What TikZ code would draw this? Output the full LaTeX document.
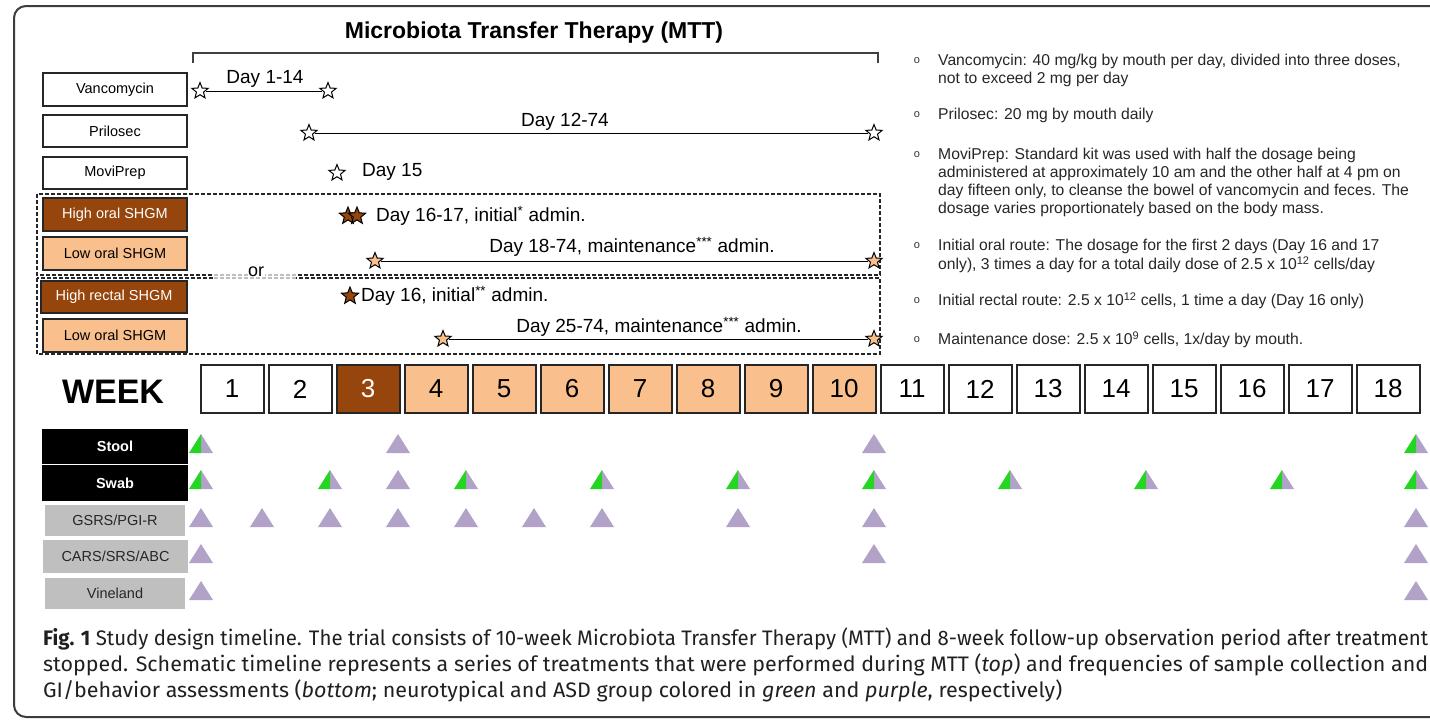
\documentclass[tikz,border=0pt]{standalone}
\usepackage{fontspec}
\usepackage{graphicx}
\setmainfont{Liberation Sans}
\newfontfamily\capfont{Fira Sans}
\usetikzlibrary{shapes.geometric}
\definecolor{brownc}{RGB}{150,69,12}
\definecolor{orangec}{RGB}{249,192,142}
\definecolor{purpc}{RGB}{179,162,199}
\definecolor{greenc}{RGB}{34,214,34}
\definecolor{grayc}{RGB}{191,191,191}
\definecolor{framec}{RGB}{60,60,60}
\definecolor{capc}{RGB}{35,31,32}
\newcommand{\fs}[1]{\fontsize{#1}{#1}\selectfont}
\newcommand{\purtri}[2]{\fill[purpc] (#1-12,#2) -- (#1,#2-19) -- (#1+12,#2) -- cycle;}
\newcommand{\spltri}[2]{\fill[purpc] (#1,#2) -- (#1,#2-19) -- (#1+12,#2) -- cycle;
  \fill[greenc] (#1-12,#2) -- (#1,#2-19) -- (#1,#2) -- cycle;}
\begin{document}
\begin{tikzpicture}[x=1pt,y=-1pt,
  lbl/.style={draw=black!85, line width=1.4pt, minimum width=144pt, minimum height=33pt, inner sep=0pt, font=\fs{14.5}},
  starw/.style={star, star points=5, star point ratio=2.3, minimum size=17pt, inner sep=0pt, draw=black, line width=1pt, fill=white},
  starb/.style={starw, fill=brownc, minimum size=18pt},
  staro/.style={starw, fill=orangec},
  daytxt/.style={font=\fs{19}, inner sep=0pt},
  wbox/.style={draw=black!85, line width=2pt, minimum width=63pt, minimum height=48pt, inner sep=0pt, font=\fs{26}},
  rtxt/.style={anchor=west, font=\fs{15.7}, inner sep=0pt, text=black!85},
  bul/.style={font=\fs{11}, inner sep=0pt, text=black!80},
  dbox/.style={draw=black!85, line width=1.2pt, dash pattern=on 4pt off 2pt},
  captxt/.style={anchor=west, inner sep=0pt, font=\capfont\fs{21}, text=capc}
]
\useasboundingbox (0,0) rectangle (1430,721);
% frame
\draw[framec, line width=2pt, rounded corners=12pt] (1432,6) -- (14,6) -- (14,717) -- (1432,717);
% title and bracket
\node[font=\bfseries\fs{23}, inner sep=0pt] (title) at (534,33) {Microbiota Transfer Therapy (MTT)};
\coordinate (bl) at (193,63); \coordinate (br) at (878,63);
\draw[black!75, line width=1.3pt] (bl) -- (193,53) -- (878,53) -- (br);
% left labels
\node[lbl] (vanc) at (115,89.5) {Vancomycin};
\node[lbl, minimum height=32pt] (pril) at (115,131) {Prilosec};
\node[lbl, minimum height=32pt] (movi) at (115,173) {MoviPrep};
\node[lbl, fill=brownc, text=white] (hio) at (115,214.5) {High oral SHGM};
\node[lbl, fill=orangec] (loo) at (115,253.5) {Low oral SHGM};
\node[lbl, fill=brownc, text=white, minimum width=146pt, minimum height=32pt] (hir) at (114,297) {High rectal SHGM};
\node[lbl, fill=orangec] (loo2) at (115,335.5) {Low oral SHGM};
% dashed group boxes
\draw[dbox] (37,194) rectangle (880,275);
\draw[dbox] (37,278) rectangle (880,354);
\fill[white] (214,272) rectangle (296,281);
\draw[black!25, line width=1.2pt, dash pattern=on 4pt off 2pt] (214,275) -- (296,275) (214,278) -- (296,278);
\node[font=\fs{18}, inner sep=0.5pt, fill=white] (or) at (256,272) {or};
% timelines
\node[starw] (v1) at (200,91) {};
\node[starw] (v2) at (328,91) {};
\draw[line width=1pt] (v1) -- (v2);
\node[daytxt] (vt) at (265,79) {Day 1-14};
\node[starw] (p1) at (309,133) {};
\node[starw] (p2) at (874,133) {};
\draw[line width=1pt] (p1) -- (p2);
\node[daytxt] (pt) at (565,122) {Day 12-74};
\node[starw] (m1) at (337,173) {};
\node[daytxt, anchor=west] (mt) at (362,172) {Day 15};
\node[starb] (h1) at (348,216) {};
\node[starb] (h2) at (357,216) {};
\node[daytxt, anchor=west] (ht) at (376,216) {Day 16-17, initial\textsuperscript{*} admin.};
\node[staro] (l1) at (375,261) {};
\node[staro] (l2) at (874,261) {};
\draw[line width=1pt] (l1) -- (l2);
\node[daytxt] (lt) at (632,247) {Day 18-74, maintenance\textsuperscript{***} admin.};
\node[starb] (r1) at (350,296) {};
\node[daytxt, anchor=west] (rt) at (361,296) {Day 16, initial\textsuperscript{**} admin.};
\node[staro] (q1) at (443,339) {};
\node[staro] (q2) at (874,339) {};
\draw[line width=1pt] (q1) -- (q2);
\node[daytxt] (qt) at (659,327) {Day 25-74, maintenance\textsuperscript{***} admin.};
% right notes
\foreach \yy in {61,115,155,246,301,340} {\node[bul] at (917,\yy) {o};}
\node[rtxt] (n1) at (938,61) {Vancomycin: 40 mg/kg by mouth per day, divided into three doses,};
\node[rtxt] (n1b) at (938,79) {not to exceed 2 mg per day};
\node[rtxt] (n2) at (938,115) {Prilosec: 20 mg by mouth daily};
\node[rtxt] (n3) at (938,155) {MoviPrep: Standard kit was used with half the dosage being};
\node[rtxt] (n3b) at (938,173) {administered at approximately 10 am and the other half at 4 pm on};
\node[rtxt] (n3c) at (938,191) {day fifteen only, to cleanse the bowel of vancomycin and feces. The};
\node[rtxt] (n3d) at (938,209) {dosage varies proportionately based on the body mass.};
\node[rtxt] (n4) at (938,246) {Initial oral route: The dosage for the first 2 days (Day 16 and 17};
\node[rtxt] (n4b) at (938,265) {only), 3 times a day for a total daily dose of 2.5 x 10\textsuperscript{12} cells/day};
\node[rtxt] (n5) at (938,301) {Initial rectal route: 2.5 x 10\textsuperscript{12} cells, 1 time a day (Day 16 only)};
\node[rtxt] (n6) at (938,340) {Maintenance dose: 2.5 x 10\textsuperscript{9} cells, 1x/day by mouth.};
% week row
\node[font=\bfseries\fs{34}, inner sep=0pt] (week) at (113,392) {WEEK};
\foreach \i in {1,...,18} {
  \pgfmathsetmacro{\xx}{232+68*(\i-1)}
  \ifnum\i=3
    \node[wbox, fill=brownc, text=white] (w\i) at (\xx,389) {\i};
  \else\ifnum\i>3 \ifnum\i<11
    \node[wbox, fill=orangec] (w\i) at (\xx,389) {\i};
  \else
    \node[wbox, fill=white] (w\i) at (\xx,389) {\i};
  \fi\else
    \node[wbox, fill=white] (w\i) at (\xx,389) {\i};
  \fi\fi
}
% bottom labels
\node[lbl, fill=black, draw=black, text=white, font=\bfseries\fs{14.5}, minimum width=145pt] (stool) at (115,446.5) {Stool};
\node[lbl, fill=black, draw=black, text=white, font=\bfseries\fs{14.5}, minimum width=145pt, minimum height=34pt] (swab) at (115,483) {Swab};
\node[lbl, fill=grayc, draw=none, text=black!85, minimum width=140pt, minimum height=31pt] (gsrs) at (115,520.5) {GSRS/PGI-R};
\node[lbl, fill=grayc, draw=none, text=black!85, minimum width=145pt] (cars) at (115.5,556.5) {CARS/SRS/ABC};
\node[lbl, fill=grayc, draw=none, text=black!85, minimum width=140pt, minimum height=31pt] (vine) at (115,593.5) {Vineland};
% triangles
\spltri{201}{453}
\purtri{398}{453}
\purtri{874}{453}
\spltri{1416}{453}
\spltri{201}{489}
\foreach \k in {2,4,6,8,10,12,14,16} {\pgfmathsetmacro{\xx}{194+68*\k} \spltri{\xx}{489}}
\purtri{398}{489}
\spltri{1416}{489}
\purtri{201}{527}
\foreach \k in {1,2,3,4,5,6,8,10} {\pgfmathsetmacro{\xx}{194+68*\k} \purtri{\xx}{527}}
\purtri{1416}{527}
\purtri{201}{563}
\purtri{874}{563}
\purtri{1416}{563}
\purtri{201}{600}
\purtri{1416}{600}
% caption
\node[captxt] (c1) at (43,639) {\resizebox{1385pt}{\height}{\textbf{Fig. 1} Study design timeline. The trial consists of 10-week Microbiota Transfer Therapy (MTT) and 8-week follow-up observation period after treatment}};
\node[captxt] (c2) at (43,665) {\resizebox{1385pt}{\height}{stopped. Schematic timeline represents a series of treatments that were performed during MTT (\textit{top}) and frequencies of sample collection and}};
\node[captxt] (c3) at (43,691) {\resizebox{1019pt}{\height}{GI/behavior assessments (\textit{bottom}; neurotypical and ASD group colored in \textit{green} and \textit{purple}, respectively)}};
\end{tikzpicture}
\end{document}
